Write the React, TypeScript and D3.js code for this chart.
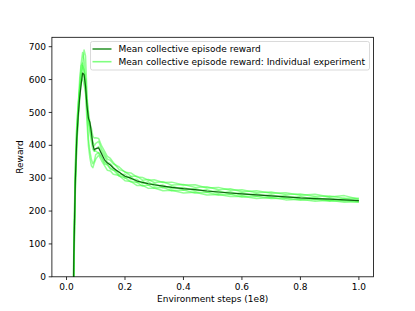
import * as d3 from 'd3';

// x positions (units of 1e8 environment steps)
const steps = [0.02, 0.025, 0.03, 0.035, 0.04, 0.045, 0.05, 0.055, 0.06, 0.065, 0.07, 0.075, 0.08, 0.085, 0.09, 0.095, 0.10, 0.11, 0.12, 0.13, 0.14, 0.15, 0.16, 0.18, 0.20, 0.22, 0.24, 0.26, 0.28, 0.30, 0.33, 0.36, 0.40, 0.44, 0.48, 0.52, 0.56, 0.60, 0.65, 0.70, 0.75, 0.80, 0.85, 0.90, 0.95, 1.00];

const meanReward = [-400, 60, 290, 420, 490, 545, 585, 620, 615, 580, 520, 482, 470, 440, 402, 386, 390, 392, 374, 356, 346, 340, 331, 318, 306, 300, 292, 287, 283, 280, 276, 272, 268, 265, 261, 258, 255, 252, 249, 246, 243, 240, 238, 236, 234, 232];

const runA = [-500, 0, 250, 400, 485, 560, 600, 645, 690, 672, 560, 470, 452, 428, 412, 398, 406, 412, 388, 374, 358, 354, 344, 334, 318, 316, 304, 302, 294, 295, 287, 288, 279, 280, 270, 272, 263, 265, 256, 258, 250, 252, 244, 246, 239, 239];
const runB = [-350, 80, 320, 452, 520, 602, 648, 682, 660, 598, 500, 418, 382, 358, 344, 352, 372, 378, 366, 349, 342, 331, 326, 306, 302, 289, 288, 276, 279, 270, 272, 262, 264, 255, 257, 249, 251, 243, 245, 238, 240, 233, 236, 230, 232, 227];
const runC = [-420, 40, 300, 428, 512, 578, 642, 650, 622, 558, 472, 398, 362, 338, 332, 346, 358, 370, 353, 338, 324, 322, 312, 308, 292, 290, 278, 278, 269, 270, 262, 263, 255, 257, 249, 250, 244, 245, 238, 241, 234, 236, 230, 233, 227, 228];
const runD = [-380, 60, 280, 412, 498, 562, 608, 642, 628, 602, 538, 502, 468, 452, 428, 422, 423, 421, 398, 382, 366, 360, 348, 326, 320, 306, 306, 294, 296, 287, 289, 279, 281, 272, 274, 265, 268, 259, 262, 254, 256, 248, 251, 243, 247, 236];
const runE = [-450, 30, 270, 398, 482, 538, 592, 618, 612, 578, 532, 488, 462, 428, 402, 383, 382, 376, 362, 343, 340, 328, 324, 320, 300, 305, 287, 291, 279, 284, 271, 276, 264, 269, 257, 262, 251, 256, 245, 250, 239, 244, 235, 240, 231, 234];
const runF = [-300, 100, 340, 462, 528, 572, 594, 602, 584, 562, 518, 482, 438, 412, 388, 382, 388, 396, 380, 367, 348, 344, 333, 310, 312, 296, 297, 283, 289, 276, 279, 268, 272, 261, 265, 254, 259, 248, 253, 242, 247, 237, 242, 232, 238, 230];
const runs = [runA, runB, runC, runD, runE, runF];

const xTicks = [0.0, 0.2, 0.4, 0.6, 0.8, 1.0];
const yTicks = [0, 100, 200, 300, 400, 500, 600, 700];
const legendLabels = ['Mean collective episode reward', 'Mean collective episode reward: Individual experiment'];

const W = 415;
const H = 311;
const margin = { top: 37.3, right: 41.5, bottom: 34.2, left: 51.9 };
const font = 'DejaVu Sans, sans-serif';

export default function App() {
  const x = d3.scaleLinear().domain([-0.05, 1.05]).range([margin.left, W - margin.right]);
  const y = d3.scaleLinear().domain([0, 728.6]).range([H - margin.bottom, margin.top]);

  const line = d3.line<number>()
    .x((d, i) => x(steps[i]))
    .y(d => y(d));

  const left = margin.left;
  const right = W - margin.right;
  const top = margin.top;
  const bottom = H - margin.bottom;

  return (
    <svg width={W} height={H} style={{ position: 'absolute', left: 0, top: 0, background: '#fff' }} fontFamily={font}>
      <defs>
        <clipPath id="plotArea">
          <rect x={left} y={top} width={right - left} height={bottom - top} />
        </clipPath>
      </defs>

      <g clipPath="url(#plotArea)">
        {runs.map((r, i) => (
          <path key={i} d={line(r) || ''} fill="none" stroke="#3dff3d" strokeOpacity={0.55} strokeWidth={1.5} strokeLinejoin="round" />
        ))}
        <path d={line(meanReward) || ''} fill="none" stroke="#106010" strokeWidth={1.2} strokeLinejoin="round" />
      </g>

      {/* axes frame */}
      <rect x={left} y={top} width={right - left} height={bottom - top} fill="none" stroke="#000" strokeWidth={0.8} />

      {xTicks.map(t => (
        <g key={t} transform={`translate(${x(t)},${bottom})`}>
          <line y2={3.2} stroke="#000" strokeWidth={0.8} />
          <text y={13} textAnchor="middle" fontSize={9}>{t.toFixed(1)}</text>
        </g>
      ))}
      {yTicks.map(t => (
        <g key={t} transform={`translate(${left},${y(t)})`}>
          <line x2={-3.2} stroke="#000" strokeWidth={0.8} />
          <text x={-6} dy="0.34em" textAnchor="end" fontSize={9}>{t}</text>
        </g>
      ))}

      <text x={(left + right) / 2} y={302} textAnchor="middle" fontSize={9}>Environment steps (1e8)</text>
      <text transform={`translate(23,${(top + bottom) / 2}) rotate(-90)`} textAnchor="middle" fontSize={9}>Reward</text>

      {/* legend */}
      <g transform="translate(90.5,41.5)">
        <rect width={279} height={28.5} rx={2} fill="#fff" fillOpacity={0.8} stroke="#d0d0d0" strokeWidth={0.8} />
        <line x1={2} x2={21} y1={7.5} y2={7.5} stroke="#339933" strokeWidth={1.6} />
        <text x={28} y={7.5} dy="0.34em" fontSize={9}>{legendLabels[0]}</text>
        <line x1={2} x2={21} y1={20.2} y2={20.2} stroke="#80ff80" strokeWidth={1.6} />
        <text x={28} y={20.2} dy="0.34em" fontSize={9}>{legendLabels[1]}</text>
      </g>
    </svg>
  );
}
